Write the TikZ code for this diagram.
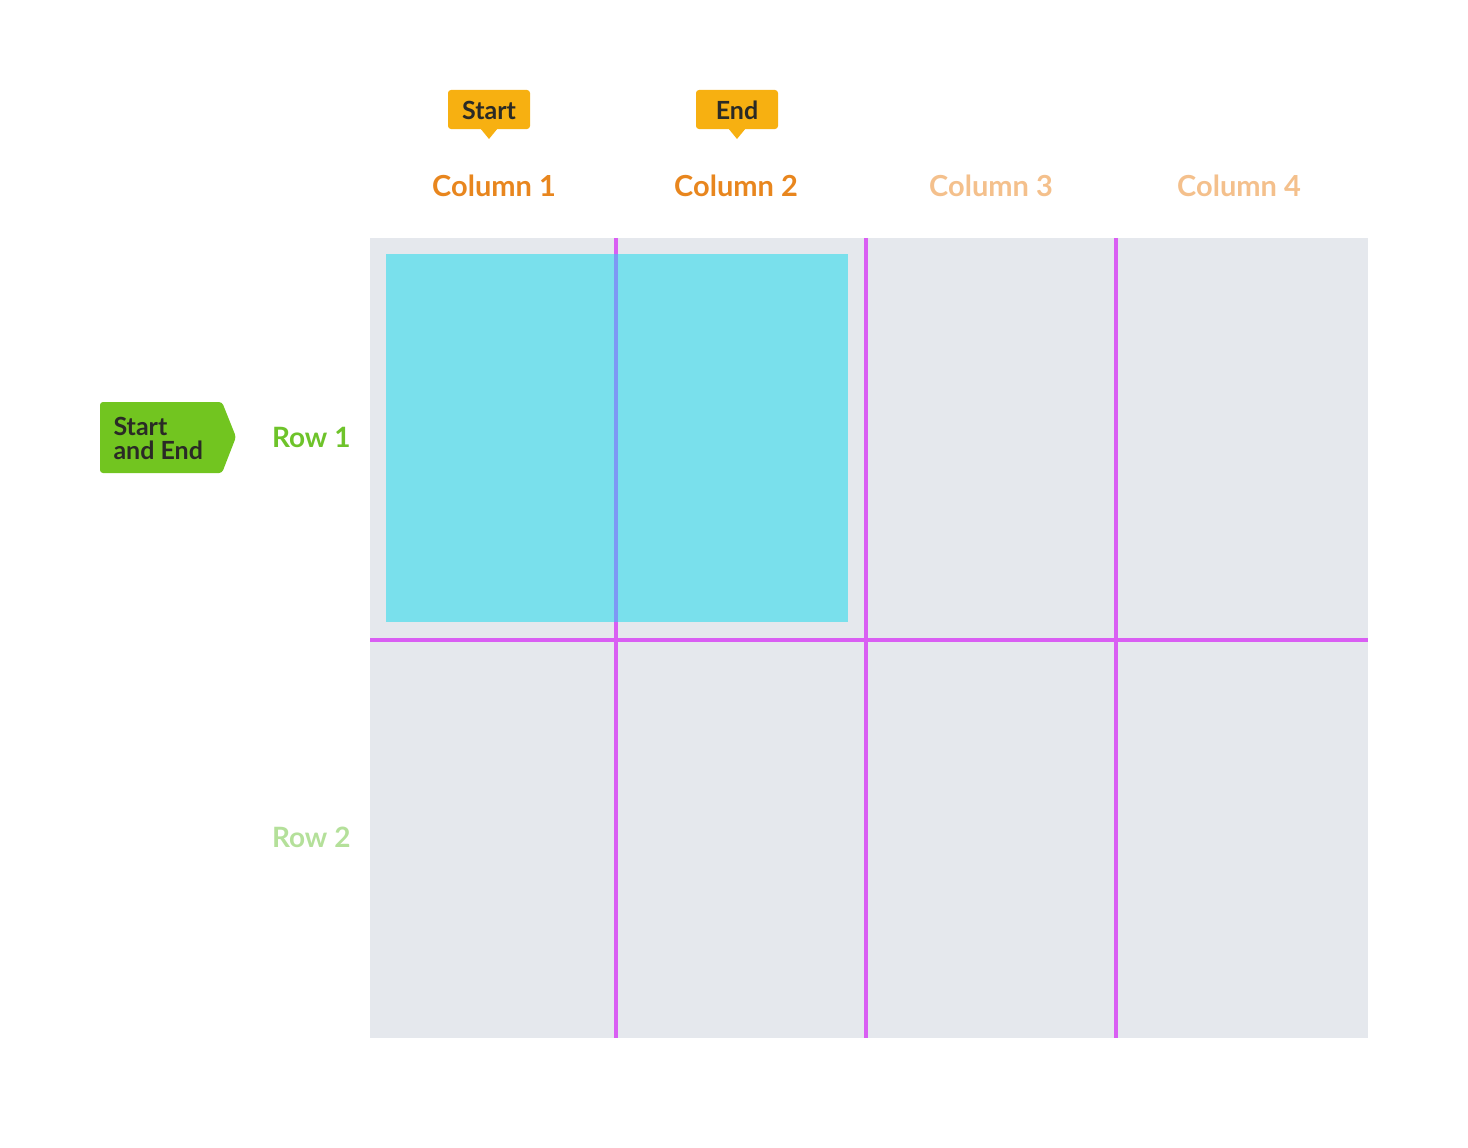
\documentclass[tikz,border=0pt]{standalone}
\usepackage{fontspec}
\setmainfont{Lato}
\usetikzlibrary{positioning}
\definecolor{gridbg}{HTML}{E5E8ED}
\definecolor{gridline}{HTML}{D95EF3}
\definecolor{mixline}{HTML}{7D98F4}
\definecolor{cyanbox}{HTML}{79E0EC}
\definecolor{amber}{HTML}{F7B011}
\definecolor{tagtext}{HTML}{2A2A26}
\definecolor{leafgreen}{HTML}{72C520}
\definecolor{rowone}{HTML}{6EC32A}
\definecolor{rowtwo}{HTML}{B4E09A}
\definecolor{colstrong}{HTML}{E8861E}
\definecolor{colpale}{HTML}{F4C08C}
\tikzset{
  gl/.style={draw=gridline, line width=3.6pt},
  collabel/.style={font=\fontsize{29}{32}\selectfont\bfseries, anchor=center},
  rowlabel/.style={font=\fontsize{28}{32}\selectfont\bfseries, anchor=east},
  tagtxt/.style={font=\fontsize{25}{24}\selectfont\bfseries, text=tagtext},
}
\begin{document}
\begin{tikzpicture}[x=1pt,y=-1pt]
\useasboundingbox (0,0) rectangle (1468,1148);
% grid background
\fill[gridbg] (370,238) rectangle (1368,1038);
\coordinate (v1t) at (616,238); \coordinate (v1b) at (616,1038);
\coordinate (v2t) at (866,238); \coordinate (v2b) at (866,1038);
\coordinate (v3t) at (1116,238); \coordinate (v3b) at (1116,1038);
\coordinate (hl) at (370,640); \coordinate (hr) at (1368,640);
\draw[gl] (v1t) -- (v1b);
\draw[gl] (v2t) -- (v2b);
\draw[gl] (v3t) -- (v3b);
\draw[gl] (hl) -- (hr);
% cyan item
\fill[cyanbox] (386,254) rectangle (848,622);
\coordinate (m1) at (616,254); \coordinate (m2) at (616,622);
\draw[draw=mixline, line width=3.6pt] (m1) -- (m2);
% column labels
\node[collabel, text=colstrong] (c1) at (494,186) {Column 1};
\node[collabel, text=colstrong] (c2) at (736,186) {Column 2};
\node[collabel, text=colpale] (c3) at (991,186) {Column 3};
\node[collabel, text=colpale] (c4) at (1239,186) {Column 4};
% row labels
\node[rowlabel, text=rowone] (r1) at (354,437) {Row 1};
\node[rowlabel, text=rowtwo] (r2) at (354,837) {Row 2};
% start tag
\fill[amber, rounded corners=3pt] (448,90) rectangle (530,129);
\fill[amber] (480,128) -- (489,139) -- (498,128) -- cycle;
\node[tagtxt] (ts) at (489,110) {Start};
% end tag
\fill[amber, rounded corners=3pt] (696,90) rectangle (778,129);
\fill[amber] (728,128) -- (737,139) -- (746,128) -- cycle;
\node[tagtxt] (te) at (737,110) {End};
% green tag
\fill[leafgreen, rounded corners=3pt] (100,402) -- (222,402) -- (236,437) -- (222,473) -- (100,473) -- cycle;
\node[tagtxt, anchor=west, align=left, font=\fontsize{25}{24}\selectfont\bfseries] (tg) at (110,438) {Start\\and End};
\end{tikzpicture}
\end{document}
